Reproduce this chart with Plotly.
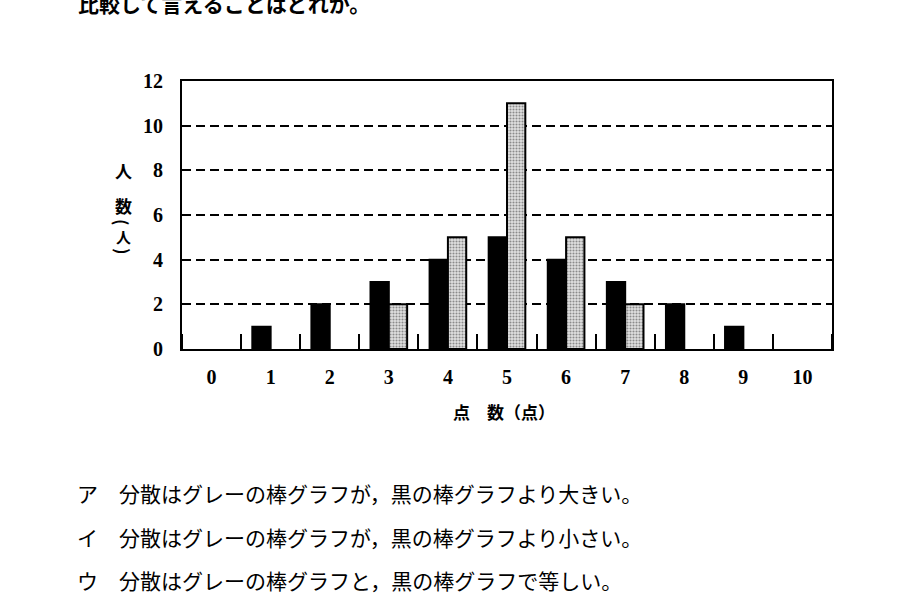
import plotly.graph_objects as go

# ---- data ----
scores = [0, 1, 2, 3, 4, 5, 6, 7, 8, 9, 10]
black_counts = [0, 1, 2, 3, 4, 5, 4, 3, 2, 1, 0]
grey_counts = [0, 0, 0, 2, 5, 11, 5, 2, 0, 0, 0]
x_tick_labels = [str(s) for s in scores]
y_ticks = [0, 2, 4, 6, 8, 10, 12]

top_text = "比較して言えることはどれか。"
choices = [
    "ア　分散はグレーの棒グラフが，黒の棒グラフより大きい。",
    "イ　分散はグレーの棒グラフが，黒の棒グラフより小さい。",
    "ウ　分散はグレーの棒グラフと，黒の棒グラフで等しい。",
]

W, H = 900, 603
L, R, T, B = 182, 68, 81, 254
PW, PH = W - L - R, H - T - B


def px(x):
    return (x - L) / PW


def py(y):
    return (H - B - y) / PH


BAR_W = 0.31
serif = "Liberation Serif"
cjk = "Noto Sans CJK JP"

fig = go.Figure()
fig.add_trace(go.Bar(
    x=scores, y=[v if v else None for v in black_counts],
    width=BAR_W, offset=-BAR_W,
    marker=dict(color="black", line=dict(color="black", width=2)),
    showlegend=False,
))
fig.add_trace(go.Bar(
    x=scores, y=[v if v else None for v in grey_counts],
    width=BAR_W, offset=0,
    marker=dict(
        color="#dedede",
        line=dict(color="black", width=2),
        pattern=dict(shape=".", fgcolor="#333333", bgcolor="#e2e2e2",
                     size=3, solidity=0.4),
    ),
    showlegend=False,
))

fig.update_layout(
    width=W, height=H,
    margin=dict(l=L, r=R, t=T, b=B, pad=0),
    paper_bgcolor="white", plot_bgcolor="white",
    barmode="overlay",
    xaxis=dict(
        range=[-0.5, 10.5],
        tickmode="array", tickvals=scores, ticktext=x_tick_labels,
        ticks="", ticklabelstandoff=9,
        tickfont=dict(family=serif, size=20, color="black", weight="bold"),
        showgrid=False, zeroline=False,
        showline=True, linecolor="black", linewidth=2, mirror=True,
        minor=dict(ticks="inside", tick0=0.5, dtick=1, ticklen=15,
                   tickwidth=2, tickcolor="black", showgrid=False),
    ),
    yaxis=dict(
        range=[0, 12],
        tickmode="array", tickvals=y_ticks,
        ticks="", ticklabelstandoff=13,
        tickfont=dict(family=serif, size=20, color="black", weight="bold"),
        showgrid=True, gridcolor="black", gridwidth=2, griddash="9px,5px",
        zeroline=False,
        showline=True, linecolor="black", linewidth=2, mirror=True,
    ),
)

ann = []
# top (clipped) sentence
ann.append(dict(text=top_text, x=px(76), y=py(3), xref="paper", yref="paper",
                xanchor="left", yanchor="middle", showarrow=False,
                font=dict(family=cjk, size=21, color="black", weight="bold")))
# x-axis title
ann.append(dict(text="点　数（点）", x=px(504), y=py(411), xref="paper", yref="paper",
                xanchor="center", yanchor="middle", showarrow=False,
                font=dict(family=cjk, size=17, color="black", weight="bold")))
# y-axis title (vertical)
for ch, yy, fs in [("人", 170, 17), ("数", 205, 17), ("人", 236, 15)]:
    ann.append(dict(text=ch, x=px(123), y=py(yy), xref="paper", yref="paper",
                    xanchor="center", yanchor="middle", showarrow=False,
                    font=dict(family=cjk, size=fs, color="black", weight="bold")))
for ch, yy in [("(", 222), (")", 251)]:
    ann.append(dict(text=ch, x=px(123), y=py(yy), xref="paper", yref="paper",
                    xanchor="center", yanchor="middle", showarrow=False,
                    textangle=90,
                    font=dict(family=cjk, size=17, color="black", weight="bold")))
# answer choices
for txt, yy in zip(choices, [493, 537, 580]):
    ann.append(dict(text=txt, x=px(75), y=py(yy), xref="paper", yref="paper",
                    xanchor="left", yanchor="middle", showarrow=False,
                    font=dict(family=cjk, size=21, color="black")))
fig.update_layout(annotations=ann)

fig.write_html("out.html")
